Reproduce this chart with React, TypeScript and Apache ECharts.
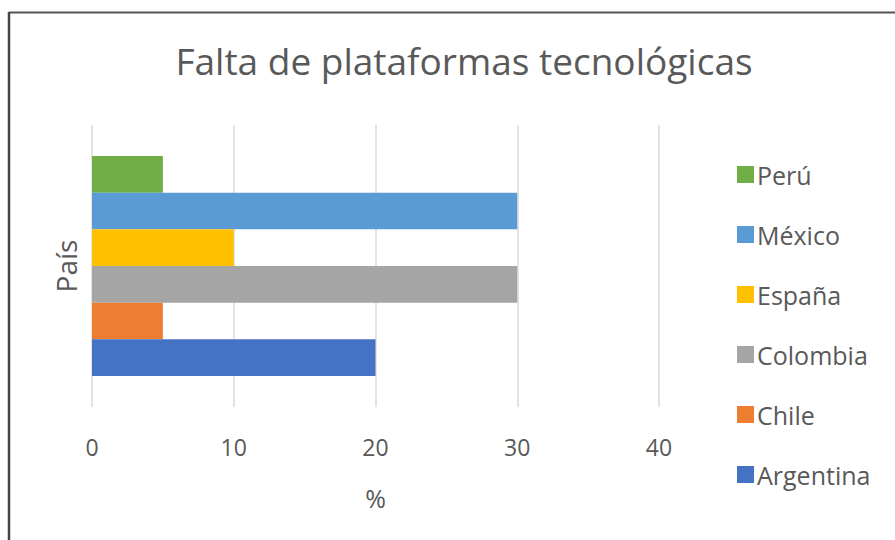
import React, { useEffect, useRef } from "react";
import * as echarts from "echarts";

const categories = ["País"];
const seriesNames = ["Perú", "México", "España", "Colombia", "Chile", "Argentina"];
const seriesValues = [5, 30, 10, 30, 5, 20];
const seriesColors = ["#70AD47", "#5B9BD5", "#FFC000", "#A5A5A5", "#ED7D31", "#4472C4"];
const tickLabels = [0, 10, 20, 30, 40];

export default function App() {
  const ref = useRef<HTMLDivElement>(null);
  useEffect(() => {
    if (!ref.current) return;
    const chart = echarts.init(ref.current, null, { renderer: "svg" });
    const font = "'Open Sans', Lato, sans-serif";
    chart.setOption({
      animation: false,
      backgroundColor: "#ffffff",
      title: {
        text: "Falta de plataformas tecnológicas",
        left: 459,
        top: 37,
        textAlign: "center",
        textStyle: { fontFamily: font, fontSize: 37, fontWeight: "normal", color: "#595959" },
      },
      legend: {
        orient: "vertical",
        left: 732,
        top: 157,
        itemWidth: 17,
        itemHeight: 17,
        itemGap: 35,
        icon: "rect",
        data: seriesNames,
        textStyle: { fontFamily: font, fontSize: 25, color: "#595959", lineHeight: 25, padding: [0, 0, 0, -2] },
      },
      grid: { left: 92, right: 236, top: 125, bottom: 133, containLabel: false },
      xAxis: {
        type: "value",
        min: tickLabels[0],
        max: tickLabels[tickLabels.length - 1],
        interval: 10,
        name: "%",
        nameLocation: "middle",
        nameGap: 78,
        nameTextStyle: { fontFamily: font, fontSize: 25, color: "#595959" },
        axisLine: { show: false },
        axisTick: { show: false },
        axisLabel: { fontFamily: font, fontSize: 23, color: "#595959", margin: 28 },
        splitLine: { show: true, lineStyle: { color: "#D9D9D9", width: 1.5 } },
      },
      yAxis: {
        type: "category",
        data: categories,
        name: "País",
        nameLocation: "middle",
        nameGap: 12,
        nameRotate: 90,
        nameTextStyle: { fontFamily: font, fontSize: 28, color: "#595959" },
        axisLine: { show: false },
        axisTick: { show: false },
        axisLabel: { show: false },
        splitLine: { show: false },
      },
      series: seriesNames.map((name, i) => ({
        name,
        type: "bar",
        data: [seriesValues[i]],
        barGap: "0%",
        barCategoryGap: "22%",
        itemStyle: { color: seriesColors[i] },
      })),
      graphic: [
        { type: "line", shape: { x1: 9, y1: 12.5, x2: 895, y2: 12.5 }, style: { stroke: "#555555", lineWidth: 2 } },
        { type: "line", shape: { x1: 9, y1: 12, x2: 9, y2: 540 }, style: { stroke: "#444444", lineWidth: 2.5 } },
      ],
    });
    return () => chart.dispose();
  }, []);
  return <div ref={ref} style={{ position: "fixed", left: 0, top: 0, width: 895, height: 540 }} />;
}
